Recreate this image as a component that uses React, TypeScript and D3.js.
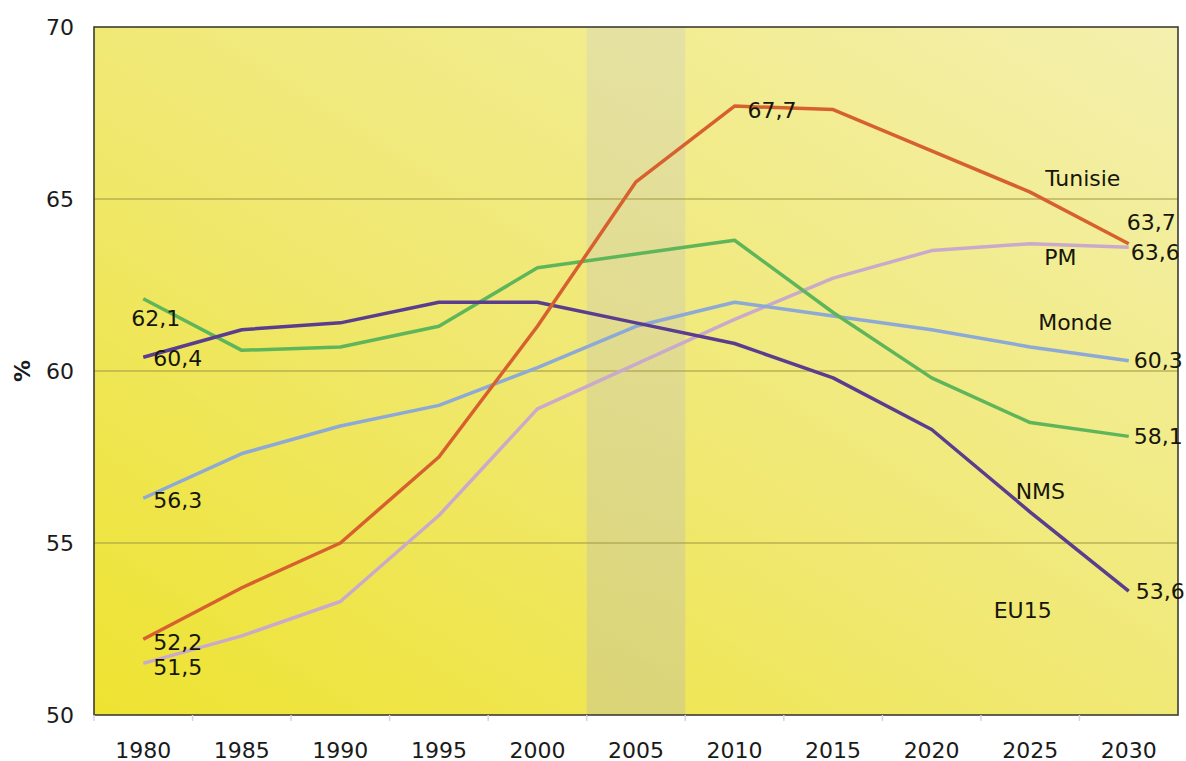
import React from "react";
import * as d3 from "d3";

const years = ["1980", "1985", "1990", "1995", "2000", "2005", "2010", "2015", "2020", "2025", "2030"];
const yTicks = [50, 55, 60, 65, 70];
const gridTicks = [55, 60, 65];

const tunisie = [52.2, 53.7, 55.0, 57.5, 61.3, 65.5, 67.7, 67.6, 66.4, 65.2, 63.7];
const monde = [56.3, 57.6, 58.4, 59.0, 60.1, 61.3, 62.0, 61.6, 61.2, 60.7, 60.3];
const eu15 = [62.1, 60.6, 60.7, 61.3, 63.0, 63.4, 63.8, 61.7, 59.8, 58.5, 58.1];
const nms = [60.4, 61.2, 61.4, 62.0, 62.0, 61.4, 60.8, 59.8, 58.3, 55.9, 53.6];
const pm = [51.5, 52.3, 53.3, 55.8, 58.9, 60.2, 61.5, 62.7, 63.5, 63.7, 63.6];

const seriesList = [
  { name: "PM", values: pm, color: "#C9AACB" },
  { name: "Monde", values: monde, color: "#8DA9D6" },
  { name: "EU15", values: eu15, color: "#5FB65A" },
  { name: "NMS", values: nms, color: "#5A3D8E" },
  { name: "Tunisie", values: tunisie, color: "#D7612E" },
];

const W = 1186, H = 761;
const L = 94, R = 1178, T = 27, B = 715;
const FONT = "'DejaVu Sans', Verdana, sans-serif";
const FS = 22;

export default function App() {
  const x = d3.scalePoint<string>().domain(years).range([L, R]).padding(0.5);
  const step = x.step();
  const y = d3.scaleLinear().domain([50, 70]).range([B, T]);
  const line = d3
    .line<number>()
    .x((_, i) => x(years[i]) as number)
    .y((d) => y(d));

  const first = years[0];
  const last = years[years.length - 1];
  const xf = x(first) as number;
  const xl = x(last) as number;

  const bandX0 = (x("2005") as number) - step / 2;

  type Lab = { t: string; x: number; y: number };
  const labels: Lab[] = [
    { t: "67,7", x: (x("2010") as number) + 13, y: y(tunisie[6]) + 4 },
    { t: "63,7", x: xl - 2, y: y(tunisie[10]) - 21 },
    { t: "63,6", x: xl + 2, y: y(pm[10]) + 5 },
    { t: "60,3", x: xl + 5, y: y(monde[10]) },
    { t: "58,1", x: xl + 5, y: y(eu15[10]) },
    { t: "53,6", x: xl + 7, y: y(nms[10]) },
    { t: "62,1", x: xf - 12, y: y(eu15[0]) + 20 },
    { t: "60,4", x: xf + 10, y: y(nms[0]) + 1 },
    { t: "56,3", x: xf + 10, y: y(monde[0]) + 2 },
    { t: "52,2", x: xf + 10, y: y(tunisie[0]) + 3 },
    { t: "51,5", x: xf + 10, y: y(pm[0]) + 4 },
    { t: "Tunisie", x: (x("2025") as number) + 15, y: y(65.6) },
    { t: "PM", x: (x("2025") as number) + 14, y: y(63.3) },
    { t: "Monde", x: (x("2025") as number) + 8, y: y(61.4) },
    { t: "NMS", x: (x("2020") as number) + 84, y: y(56.5) },
    { t: "EU15", x: (x("2020") as number) + 62, y: y(53.05) },
  ];

  return (
    <svg width={W} height={H} style={{ position: "absolute", left: 0, top: 0, background: "#fff" }}>
      <defs>
        <linearGradient id="bg" x1="0" y1="1" x2="1" y2="0">
          <stop offset="0" stopColor="#EEE330" />
          <stop offset="0.45" stopColor="#F0E870" />
          <stop offset="1" stopColor="#F4F0AE" />
        </linearGradient>
        <linearGradient id="band" x1="0" y1="0" x2="0" y2="1">
          <stop offset="0" stopColor="#C8C8C8" stopOpacity={0.3} />
          <stop offset="1" stopColor="#B8B8B0" stopOpacity={0.38} />
        </linearGradient>
      </defs>
      <rect x={L} y={T} width={R - L} height={B - T} fill="url(#bg)" />
      <rect x={bandX0} y={T} width={step} height={B - T} fill="url(#band)" />
      {gridTicks.map((v) => (
        <line key={v} x1={L} x2={R} y1={y(v)} y2={y(v)} stroke="#A89F48" strokeWidth={1.5} opacity={0.75} />
      ))}
      {seriesList.map((s) => (
        <path
          key={s.name}
          d={line(s.values) || ""}
          fill="none"
          stroke={s.color}
          strokeWidth={3.5}
          strokeLinejoin="round"
        />
      ))}
      <rect x={L} y={T} width={R - L} height={B - T} fill="none" stroke="#3d3d30" strokeWidth={1.6} />
      {years.map((yr, i) => (
        <line
          key={"t" + yr}
          x1={L + i * step}
          x2={L + i * step}
          y1={B}
          y2={B + 6}
          stroke="#d8d0e8"
          strokeWidth={1.5}
        />
      ))}
      {years.map((yr) => (
        <text
          key={yr}
          x={x(yr) as number}
          y={750}
          textAnchor="middle"
          dominantBaseline="central"
          fontFamily={FONT}
          fontSize={FS}
          fill="#1a1a1a"
        >
          {yr}
        </text>
      ))}
      {yTicks.map((v) => (
        <text
          key={v}
          x={74}
          y={y(v)}
          textAnchor="end"
          dominantBaseline="central"
          fontFamily={FONT}
          fontSize={FS}
          fill="#1a1a1a"
        >
          {v}
        </text>
      ))}
      <text
        transform={`translate(22, ${y(60)}) rotate(-90)`}
        textAnchor="middle"
        dominantBaseline="central"
        fontFamily={FONT}
        fontSize={FS}
        fontWeight="bold"
        fill="#1a1a1a"
      >
        %
      </text>
      {labels.map((l, i) => (
        <text
          key={i}
          x={l.x}
          y={l.y}
          textAnchor="start"
          dominantBaseline="central"
          fontFamily={FONT}
          fontSize={FS}
          fill="#16160a"
        >
          {l.t}
        </text>
      ))}
    </svg>
  );
}
